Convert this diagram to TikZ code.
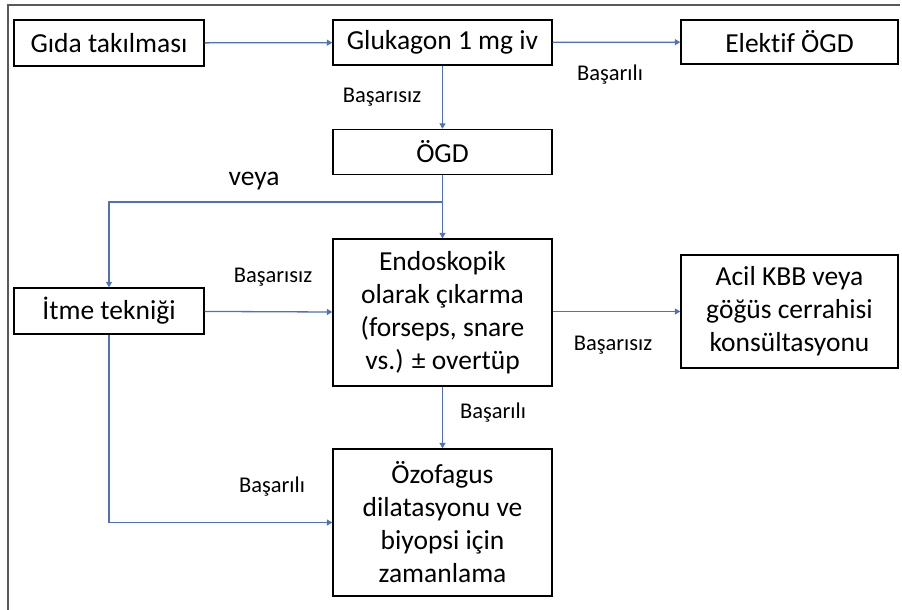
\documentclass[tikz,border=0pt]{standalone}
\usepackage{fontspec}
\setmainfont{Carlito}[Ligatures=NoCommon]
\usetikzlibrary{arrows.meta}
\definecolor{linkblue}{RGB}{79,114,180}

\begin{document}
\begin{tikzpicture}[x=1pt, y=1pt,
  box/.style={draw=black, line width=1.4pt, inner sep=0pt, align=center,
    font=\fontsize{27.5}{33}\selectfont},
  small/.style={box, minimum width=190pt, minimum height=46pt},
  wide/.style={box, minimum width=219pt, minimum height=45pt},
  tall/.style={box, minimum width=219pt, minimum height=147pt},
  link/.style={draw=linkblue, line width=1.3pt, -{Triangle[width=6pt,length=5.5pt]}},
  lbl/.style={font=\fontsize{22.5}{27}\selectfont, inner sep=0pt}]
\useasboundingbox (0,0) rectangle (902,-610);
\draw[line width=1.4pt, color=black!65] (8,-610) -- (8,-5) -- (900,-5);

\node[small] (gida) at (109,-43) {Gıda takılması};
\node[wide] (gluk) at (442.5,-42.5) {Glukagon 1 mg iv};
\node[box, minimum width=217pt, minimum height=44pt] (elek) at (789.5,-42) {Elektif ÖGD};
\node[wide] (ogd) at (442.5,-152) {ÖGD};
\node[small] (itme) at (109,-311) {İtme tekniği};
\node[tall] (endo) at (442.5,-312.5) {Endoskopik\\olarak çıkarma\\(forseps, snare\\vs.) ± overtüp};
\node[box, minimum width=217pt, minimum height=113pt] (acil) at (789.5,-311.5) {Acil KBB veya\\göğüs cerrahisi\\konsültasyonu};
\node[tall] (ozo) at (442.5,-522.5) {Özofagus\\dilatasyonu ve\\biyopsi için\\zamanlama};

\node[lbl] (l1) at (382,-97) {Başarısız};
\node[lbl] (l2) at (610,-75) {Başarılı};
\node[box, draw=none] (l3) at (254,-181) {veya};
\node[lbl] (l4) at (273,-277) {Başarısız};
\node[lbl] (l5) at (613,-345) {Başarısız};
\node[lbl] (l6) at (493,-413) {Başarılı};
\node[lbl] (l7) at (272,-487) {Başarılı};

\coordinate (split) at (442.5,-202);

\draw[link] (gida) -- (gluk);
\draw[link] (gluk) -- (elek);
\draw[link] (gluk) -- (ogd);
\draw[link] (ogd) -- (endo);
\draw[link] (split) -| (itme.north);
\draw[link] (itme) -- (endo);
\draw[link] (endo.east |- acil.west) -- (acil.west);
\draw[link] (endo) -- (ozo);
\draw[link] (itme.south) |- (ozo.west);
\end{tikzpicture}
\end{document}
